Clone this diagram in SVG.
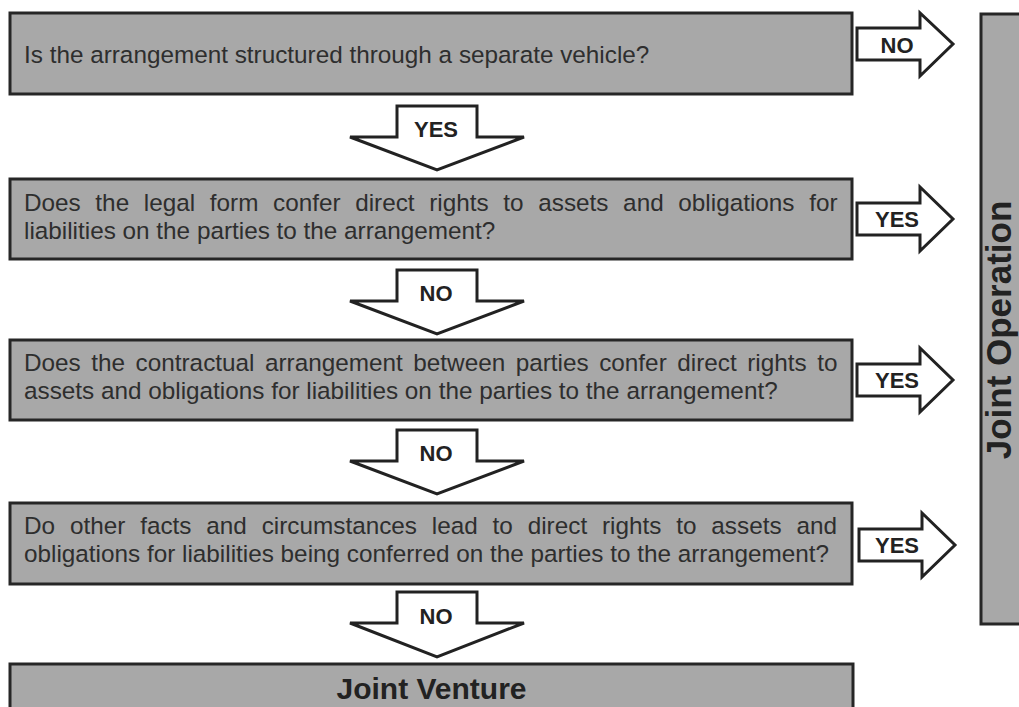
<svg xmlns="http://www.w3.org/2000/svg" width="1019" height="707" viewBox="0 0 1019 707">
<style>
.box{fill:#a8a8a8;stroke:#262626;stroke-width:3}
.arr{fill:#ffffff;stroke:#222222;stroke-width:3;stroke-linejoin:miter}
.q{font-family:"Liberation Sans",Arial,sans-serif;font-size:24.3px;fill:#2e2e2e}
.lbl{font-family:"Liberation Sans",Arial,sans-serif;font-size:22px;font-weight:bold;fill:#222222;text-anchor:middle}
.big{font-family:"Liberation Sans",Arial,sans-serif;font-weight:bold;fill:#222222;text-anchor:middle}
</style>
<rect width="1019" height="707" fill="#ffffff"/>
<g id="q1">
<rect class="box" x="10" y="13" width="842" height="81"/>
<text class="q" x="24" y="63">Is the arrangement structured through a separate vehicle?</text>
</g>
<g id="q2">
<rect class="box" x="10" y="179" width="842" height="80"/>
<text class="q" x="24" y="211" word-spacing="7.9">Does the legal form confer direct rights to assets and obligations for</text>
<text class="q" x="24" y="239">liabilities on the parties to the arrangement?</text>
</g>
<g id="q3">
<rect class="box" x="10" y="340" width="842" height="80"/>
<text class="q" x="24" y="371" word-spacing="3.8">Does the contractual arrangement between parties confer direct rights to</text>
<text class="q" x="24" y="399">assets and obligations for liabilities on the parties to the arrangement?</text>
</g>
<g id="q4">
<rect class="box" x="10" y="503" width="842" height="81"/>
<text class="q" x="24" y="534" word-spacing="8.1">Do other facts and circumstances lead to direct rights to assets and</text>
<text class="q" x="24" y="562">obligations for liabilities being conferred on the parties to the arrangement?</text>
</g>
<g id="jv">
<rect class="box" x="10" y="664" width="843" height="60"/>
<text class="big" x="431.5" y="699" font-size="30">Joint Venture</text>
</g>
<g id="jo">
<rect class="box" x="981" y="14" width="50" height="610"/>
<text class="big" font-size="35" transform="translate(1011,330) rotate(-90)">Joint Operation</text>
</g>
<g id="connectors">
<path class="arr" d="M397,106 L477,106 L477,137 L524,137 L437,170 L350,137 L397,137 Z"/>
<text class="lbl" x="436" y="137">YES</text>
<path class="arr" d="M397,270 L477,270 L477,301 L524,301 L437,334 L350,301 L397,301 Z"/>
<text class="lbl" x="436" y="301">NO</text>
<path class="arr" d="M397,430 L477,430 L477,461 L524,461 L437,494 L350,461 L397,461 Z"/>
<text class="lbl" x="436" y="461">NO</text>
<path class="arr" d="M397,592 L477,592 L477,623 L524,623 L437,657 L350,623 L397,623 Z"/>
<text class="lbl" x="436" y="624">NO</text>
<path class="arr" d="M857,28 L920,28 L920,13 L953,44 L920,76 L920,60 L857,60 Z"/>
<text class="lbl" x="897" y="53">NO</text>
<path class="arr" d="M857,203 L920,203 L920,187 L953,219 L920,251 L920,235 L857,235 Z"/>
<text class="lbl" x="897" y="227">YES</text>
<path class="arr" d="M857,364 L920,364 L920,348 L953,380 L920,412 L920,396 L857,396 Z"/>
<text class="lbl" x="897" y="388">YES</text>
<path class="arr" d="M859,529 L922,529 L922,513 L955,545 L922,577 L922,561 L859,561 Z"/>
<text class="lbl" x="897" y="553">YES</text>
</g>
</svg>
